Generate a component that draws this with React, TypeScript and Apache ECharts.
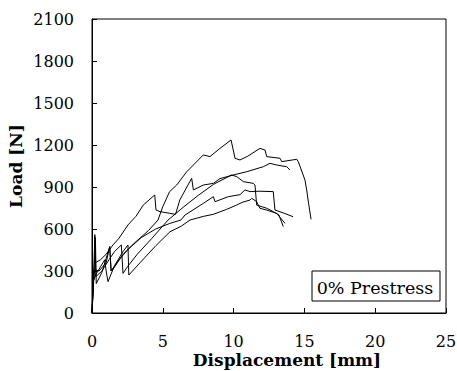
import React, { useEffect, useRef } from "react";
import * as echarts from "echarts";

// Displacement [mm], Load [N] pairs
const specimen1: [number, number][] = [
  [0, 0], [0.08, 200], [0.2, 310], [0.5, 300], [1.0, 360], [1.25, 474], [1.35, 300], [1.6, 330],
  [2.2, 420], [3.0, 500], [4.0, 590], [4.66, 664], [5.0, 760], [5.48, 867], [5.98, 914],
  [6.69, 1009], [7.16, 1057], [7.86, 1129], [8.33, 1117], [9.04, 1176], [9.82, 1236],
  [10.1, 1105], [10.45, 1093], [11.0, 1120], [11.86, 1176], [12.22, 1164], [12.34, 1117],
  [13.28, 1105], [13.4, 1081], [14.46, 1098], [14.57, 1081], [15.04, 950], [15.16, 879],
  [15.3, 780], [15.47, 669],
];
const specimen2: [number, number][] = [
  [0, 0], [0.1, 280], [0.25, 360], [0.6, 380], [1.0, 420], [1.48, 486], [1.9, 533],
  [2.54, 629], [3.1, 690], [3.62, 771], [4.43, 843], [4.52, 736], [4.8, 724], [5.5, 712],
  [5.9, 705], [6.2, 807], [6.7, 900], [7.04, 962], [7.16, 879], [7.86, 914], [8.57, 926],
  [9.04, 960], [9.98, 986], [10.92, 1009], [12.1, 1045], [12.57, 1069], [13.04, 1057],
  [13.75, 1045], [13.98, 1021],
];
const specimen3: [number, number][] = [
  [0, 0], [0.1, 200], [0.2, 560], [0.28, 260], [0.7, 300], [1.2, 380], [1.6, 440],
  [2.07, 486], [2.19, 283], [2.5, 330], [3.2, 420], [4.2, 530], [5.37, 664], [6.5, 760],
  [7.5, 840], [8.6, 920], [9.86, 986], [10.22, 974], [10.69, 938], [11.39, 926],
  [11.51, 914], [11.63, 771], [12.34, 748], [12.8, 724], [13.2, 700], [13.51, 617],
];
const specimen4: [number, number][] = [
  [0, 0], [0.1, 190], [0.24, 540], [0.3, 210], [0.7, 290], [1.25, 474], [1.35, 300],
  [1.9, 380], [2.6, 460], [3.5, 540], [4.5, 600], [5.5, 640], [6.28, 664], [6.57, 700],
  [7.86, 783], [8.57, 831], [8.69, 795], [9.63, 831], [10.45, 845], [10.8, 879],
  [11.16, 867], [11.8, 870], [12.8, 867], [12.92, 736], [13.5, 715], [14.2, 688],
];
const specimen5: [number, number][] = [
  [0, 0], [0.1, 230], [0.3, 280], [0.6, 330], [0.9, 380], [1.0, 300], [1.13, 224],
  [1.6, 340], [2.2, 440], [2.54, 486], [2.6, 271], [3.4, 360], [4.5, 480], [5.5, 580],
  [6.3, 620], [6.92, 664], [7.86, 690], [8.57, 705], [9.5, 740], [10.22, 771],
  [10.6, 790], [11.16, 807], [11.28, 819], [11.63, 795], [11.86, 748], [12.34, 735],
  [13.04, 712], [13.63, 641],
];
const specimens = [specimen1, specimen2, specimen3, specimen4, specimen5];

const xTitle = "Displacement [mm]";
const yTitle = "Load [N]";
const boxLabel = "0% Prestress";

const FONT = "DejaVu Serif";

export default function App() {
  const ref = useRef<HTMLDivElement>(null);
  useEffect(() => {
    if (!ref.current) return;
    const chart = echarts.init(ref.current, undefined, { renderer: "svg" });
    chart.setOption({
      animation: false,
      backgroundColor: "#fff",
      textStyle: { fontFamily: FONT },
      grid: {
        left: 92, right: 11, top: 19, bottom: 58,
        outerBoundsMode: "none",
        containLabel: false,
        show: true, borderColor: "#000", borderWidth: 1, backgroundColor: "transparent",
      },
      xAxis: {
        type: "value", min: 0, max: 25, interval: 5,
        name: xTitle, nameLocation: "middle", nameGap: 38, nameMoveOverlap: false,
        nameTextStyle: {
          fontFamily: FONT, fontSize: 17, fontWeight: "bold", color: "#000",
          lineHeight: 17, padding: [0, 0, 0, 36],
        },
        axisLine: { show: true, lineStyle: { color: "#000", width: 1 } },
        axisTick: { show: true, inside: true, length: 5, lineStyle: { color: "#000" } },
        axisLabel: {
          fontFamily: FONT, fontSize: 16, color: "#000", margin: 21, lineHeight: 14,
          formatter: (v: number) => String(v),
        },
        splitLine: { show: false },
      },
      yAxis: {
        type: "value", min: 0, max: 2100, interval: 300,
        name: yTitle, nameLocation: "middle", nameGap: 68, nameRotate: 90, nameMoveOverlap: false,
        nameTextStyle: { fontFamily: FONT, fontSize: 17, fontWeight: "bold", color: "#000" },
        axisLine: { show: true, lineStyle: { color: "#000", width: 1 } },
        axisTick: { show: true, inside: true, length: 5, lineStyle: { color: "#000" } },
        axisLabel: { fontFamily: FONT, fontSize: 16, color: "#000", margin: 18, formatter: (v: number) => String(v) },
        splitLine: { show: false },
      },
      series: specimens.map((d) => ({
        type: "line",
        data: d,
        showSymbol: false,
        symbol: "none",
        lineStyle: { color: "#000", width: 1 },
      })),
      graphic: [
        {
          type: "rect",
          shape: { x: 312, y: 271, width: 128, height: 30 },
          style: { fill: "#fff", stroke: "#000", lineWidth: 1 },
          z: 100,
        },
        {
          type: "text",
          x: 375, y: 288,
          style: {
            text: boxLabel, fontFamily: FONT, fontSize: 17.5, fill: "#000",
            textAlign: "center", textVerticalAlign: "middle",
          },
          z: 101,
        },
      ],
    });
    return () => chart.dispose();
  }, []);
  return (
    <div
      ref={ref}
      style={{ position: "fixed", left: 0, top: 0, width: 457, height: 371 }}
    />
  );
}
